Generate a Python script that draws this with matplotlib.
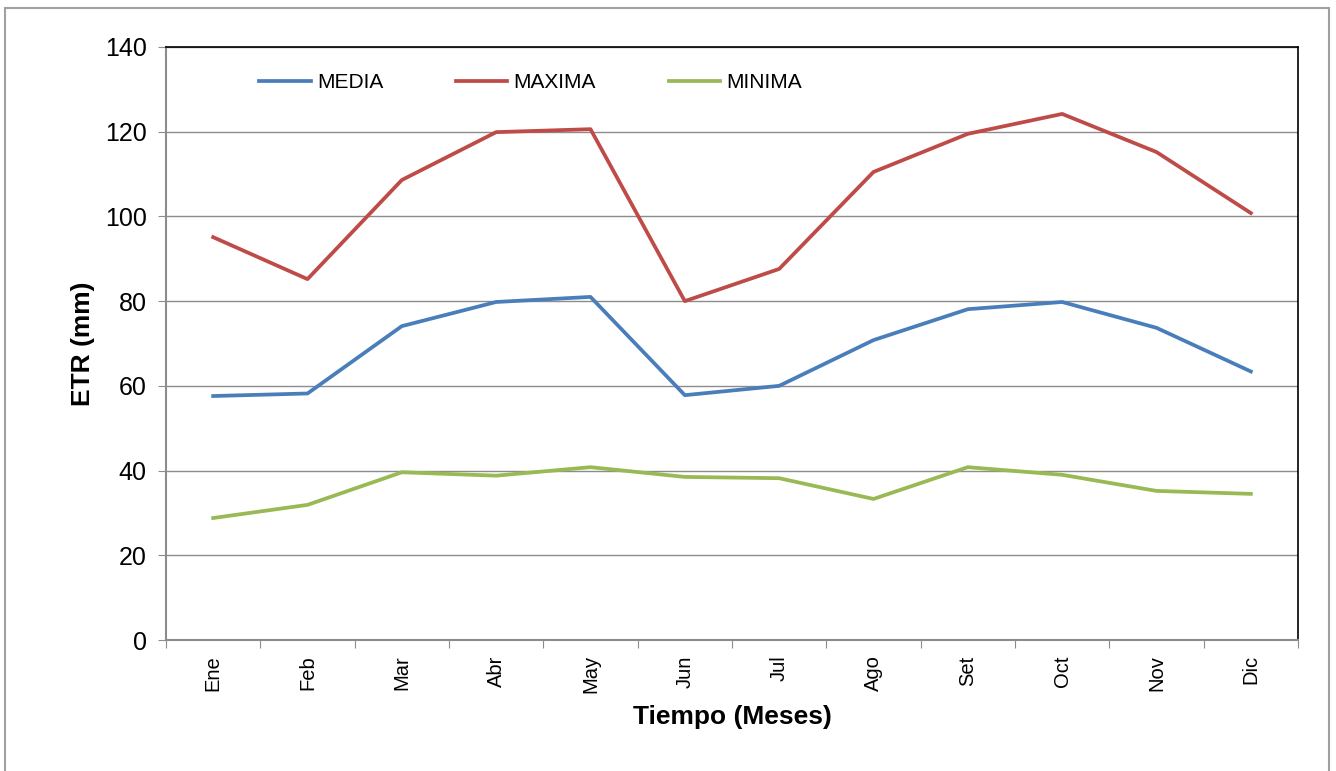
import matplotlib
matplotlib.use("Agg")
import matplotlib.pyplot as plt
from matplotlib.patches import Rectangle

plt.rcParams['font.family'] = ['Liberation Sans', 'DejaVu Sans']

meses = ["Ene", "Feb", "Mar", "Abr", "May", "Jun", "Jul", "Ago", "Set", "Oct", "Nov", "Dic"]
media = [57.6, 58.2, 74.1, 79.8, 81.0, 57.8, 60.0, 70.8, 78.1, 79.8, 73.7, 63.4]
maxima = [95.1, 85.2, 108.6, 119.9, 120.6, 80.0, 87.6, 110.5, 119.5, 124.2, 115.2, 100.8]
minima = [28.8, 31.9, 39.6, 38.8, 40.8, 38.5, 38.2, 33.3, 40.8, 39.0, 35.2, 34.5]

fig = plt.figure(figsize=(13.36, 7.71), dpi=100)
ax = fig.add_axes([166/1336, 1-640/771, (1298-166)/1336, (640-47)/771])

# outer frame
fig.patches.append(Rectangle((5/1336, -0.05), (1329-5)/1336, 1.05-8/771,
                             transform=fig.transFigure, fill=False,
                             edgecolor='#a0a0a0', linewidth=1.5))

x = list(range(len(meses)))
ax.plot(x, media, color='#4a7ebb', lw=2.7, label='MEDIA')
ax.plot(x, maxima, color='#be4b48', lw=2.7, label='MAXIMA')
ax.plot(x, minima, color='#98b954', lw=2.7, label='MINIMA')

ax.set_xlim(-0.5, 11.5)
ax.set_ylim(0, 140)
ax.set_yticks(range(0, 141, 20))
ax.yaxis.grid(True, color='#8c8c8c', lw=1)
ax.set_axisbelow(True)

ax.set_xticks([i - 0.5 for i in range(13)])
ax.set_xticklabels([])
ax.set_xticks(x, minor=True)
ax.set_xticklabels(meses, minor=True, rotation=90, fontsize=14.5)
ax.tick_params(axis='x', which='minor', length=0, pad=11)
ax.tick_params(axis='x', which='major', length=6, color='#8c8c8c', direction='out')
ax.tick_params(axis='y', length=6, color='#8c8c8c', labelsize=18, pad=8)

for s in ['left', 'bottom']:
    ax.spines[s].set_color('#8c8c8c')
    ax.spines[s].set_linewidth(1.5)
for s in ['top', 'right']:
    ax.spines[s].set_color('black')
    ax.spines[s].set_linewidth(1.2)

ax.set_ylabel('ETR (mm)', fontsize=19, fontweight='bold', labelpad=7)
ax.set_xlabel('Tiempo (Meses)', fontsize=19, fontweight='bold', labelpad=8)

ax.legend(loc='upper left', bbox_to_anchor=(0.066, 0.987), ncol=3, frameon=False,
          fontsize=15, handlelength=2.45, handletextpad=0.3, columnspacing=3.5)

fig.savefig('out.png', dpi=100)
